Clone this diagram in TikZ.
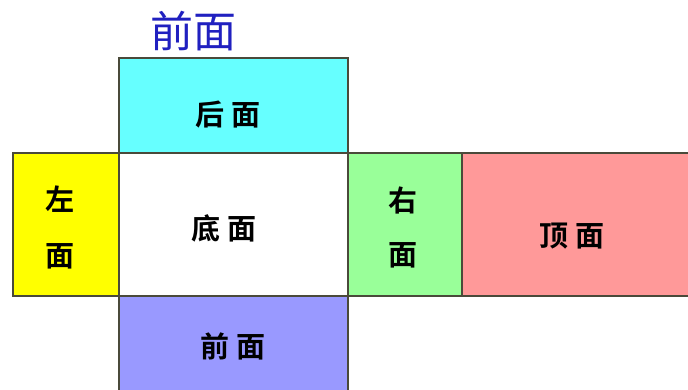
\documentclass[tikz,border=0pt]{standalone}
\usepackage{fontspec}
\newfontfamily\cjk{Noto Sans CJK SC}
\newfontfamily\cjkb{Noto Sans CJK SC Bold}
\definecolor{cyanf}{HTML}{66FFFF}
\definecolor{yelf}{HTML}{FFFF00}
\definecolor{grnf}{HTML}{99FF99}
\definecolor{pinkf}{HTML}{FF9999}
\definecolor{bluef}{HTML}{9999FF}
\definecolor{edgec}{HTML}{4A4A3A}
\definecolor{lblue}{HTML}{2020C0}
\begin{document}
\begin{tikzpicture}[x=1pt,y=-1pt,
  face/.style={draw=edgec,line width=1.4pt},
  ftext/.style={font=\cjkb\fontsize{29}{32}\selectfont,text=black,inner sep=0pt},
  toplabel/.style={font=\cjk\fontsize{43}{45}\selectfont,text=lblue,inner sep=0pt}]
\useasboundingbox (0,0) rectangle (688,390);
\clip (0,0) rectangle (688,390);
\fill[white] (0,0) rectangle (688,390);
\filldraw[face,fill=cyanf] (119,58) rectangle (348,153);
\filldraw[face,fill=yelf] (13,153) rectangle (119,296);
\filldraw[face,fill=white] (119,153) rectangle (348,296);
\filldraw[face,fill=grnf] (348,153) rectangle (462,296);
\filldraw[face,fill=pinkf] (462,153) rectangle (692,296);
\filldraw[face,fill=bluef] (119,296) rectangle (348,394);
\node[ftext] (back) at (228,115) {后\hspace{8pt}面};
\node[ftext,align=center] (left) at (60,227) {左\\[24pt]面};
\node[ftext] (bottom) at (224,228) {底\hspace{8pt}面};
\node[ftext,align=center] (right) at (403,227) {右\\[22pt]面};
\node[ftext] (top) at (572,236) {顶\hspace{8pt}面};
\node[ftext] (front) at (233,346) {前\hspace{8pt}面};
\node[toplabel] (lab) at (193,31) {前面};
\end{tikzpicture}
\end{document}
